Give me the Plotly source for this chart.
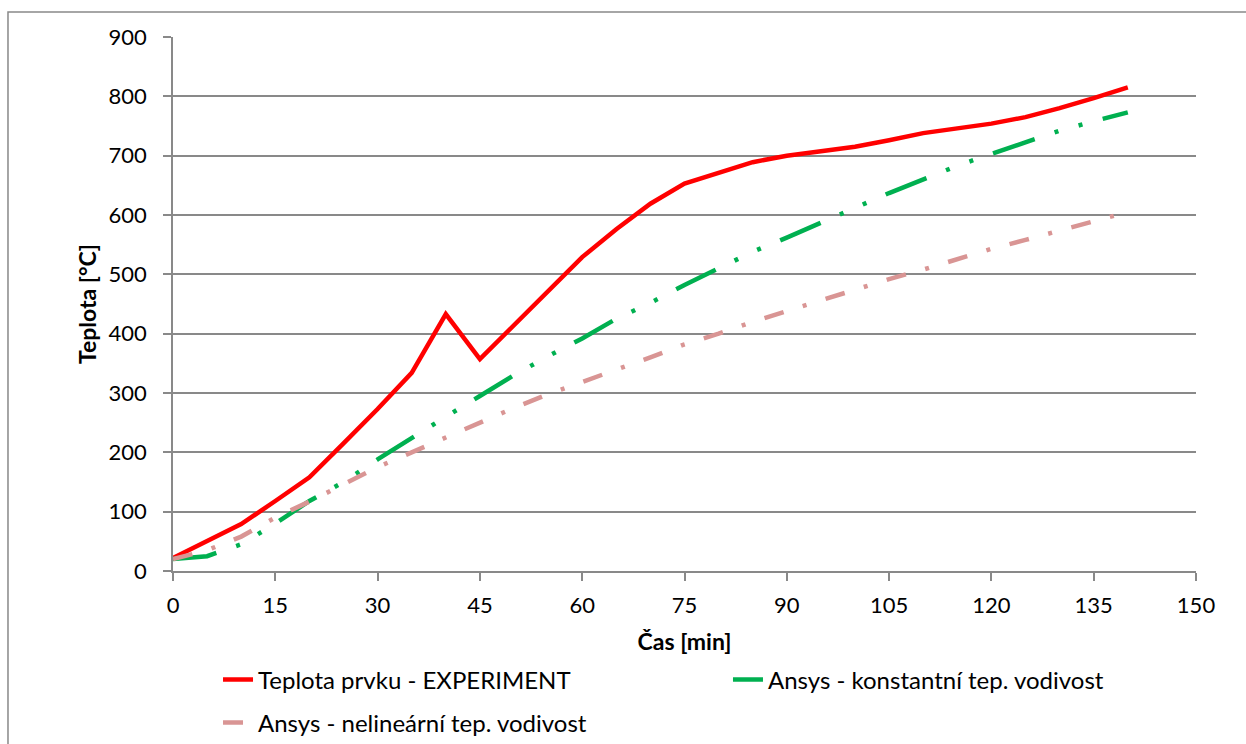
import plotly.graph_objects as go

# Time axis (minutes) and measured / simulated temperatures (°C)
cas = [0, 5, 10, 15, 20, 25, 30, 35, 40, 45, 50, 55, 60, 65, 70, 75, 80, 85, 90, 95,
       100, 105, 110, 115, 120, 125, 130, 135, 140]
experiment = [22, 50, 79, 118, 158, 215, 273, 334, 433, 357, 415, 472, 529, 576, 619, 653,
              672, 689, 700, 708, 715, 726, 738, 746, 754, 765, 780, 797, 815]
ansys_konst = [20, 25, 45, 80, 118, 150, 188, 225, 260, 295, 330, 362, 392, 425, 452, 482,
               511, 538, 562, 588, 612, 637, 660, 683, 703, 722, 742, 758, 773]
ansys_nelin = [20, 35, 58, 90, 117, 145, 175, 200, 225, 251, 275, 298, 318, 340, 360, 382,
               400, 420, 438, 455, 474, 492, 508, 525, 543, 558, 574, 590, 605]

names = ["Teplota prvku - EXPERIMENT",
         "Ansys - konstantní tep. vodivost",
         "Ansys - nelineární tep. vodivost"]

x_ticks = list(range(0, 151, 15))
y_ticks = list(range(0, 901, 100))

FONT = "Lato, Carlito, Calibri, sans-serif"
GRAY = "#898989"

fig = go.Figure()
fig.add_trace(go.Scatter(x=cas, y=experiment, mode="lines", name=names[0],
                         line=dict(color="#FF0000", width=4.5), legend="legend"))
fig.add_trace(go.Scatter(x=cas, y=ansys_konst, mode="lines", name=names[1],
                         line=dict(color="#00B050", width=4.5,
                                   dash="44px,21px,4px,21px,4px,21px"),
                         legend="legend2"))
fig.add_trace(go.Scatter(x=cas, y=ansys_nelin, mode="lines", name=names[2],
                         line=dict(color="#D99594", width=4.5, dash="20px,20px,4px,20px"),
                         legend="legend3"))

axis_common = dict(showline=True, linecolor=GRAY, linewidth=1.5,
                   ticks="outside", ticklen=8, tickcolor=GRAY, tickwidth=1.5,
                   tickfont=dict(family=FONT, size=22, color="#000000"),
                   zeroline=False, automargin=False)

fig.update_xaxes(range=[0, 150], tickvals=x_ticks, showgrid=False, ticklabelstandoff=6,
                 title=dict(text="<b>Čas [min]</b>", font=dict(family=FONT, size=23, color="#000"),
                            standoff=17),
                 **axis_common)
fig.update_yaxes(range=[0, 900], tickvals=y_ticks, showgrid=True,
                 gridcolor=GRAY, gridwidth=1.5, ticklabelstandoff=12,
                 title=dict(text="<b>Teplota [°C]</b>", font=dict(family=FONT, size=23, color="#000"),
                            standoff=6),
                 **axis_common)

legend_common = dict(orientation="h", font=dict(family=FONT, size=24, color="#000"),
                     bgcolor="rgba(0,0,0,0)", xanchor="left", yanchor="middle",
                     yref="container")

fig.update_layout(
    width=1246, height=744,
    margin=dict(l=173, r=50, t=37, b=173, autoexpand=False),
    paper_bgcolor="#FFFFFF", plot_bgcolor="#FFFFFF",
    font=dict(family=FONT),
    showlegend=True,
    legend=dict(x=0.044, y=1 - 680 / 744, **legend_common),
    legend2=dict(x=0.5425, y=1 - 680 / 744, **legend_common),
    legend3=dict(x=0.044, y=1 - 723 / 744, **legend_common),
    shapes=[dict(type="rect", xref="paper", yref="paper",
                 x0=-0.1613, x1=1.06, y0=-0.34, y1=1.0468,
                 line=dict(color=GRAY, width=1.5), layer="below")],
)

fig.write_html("out.html")
